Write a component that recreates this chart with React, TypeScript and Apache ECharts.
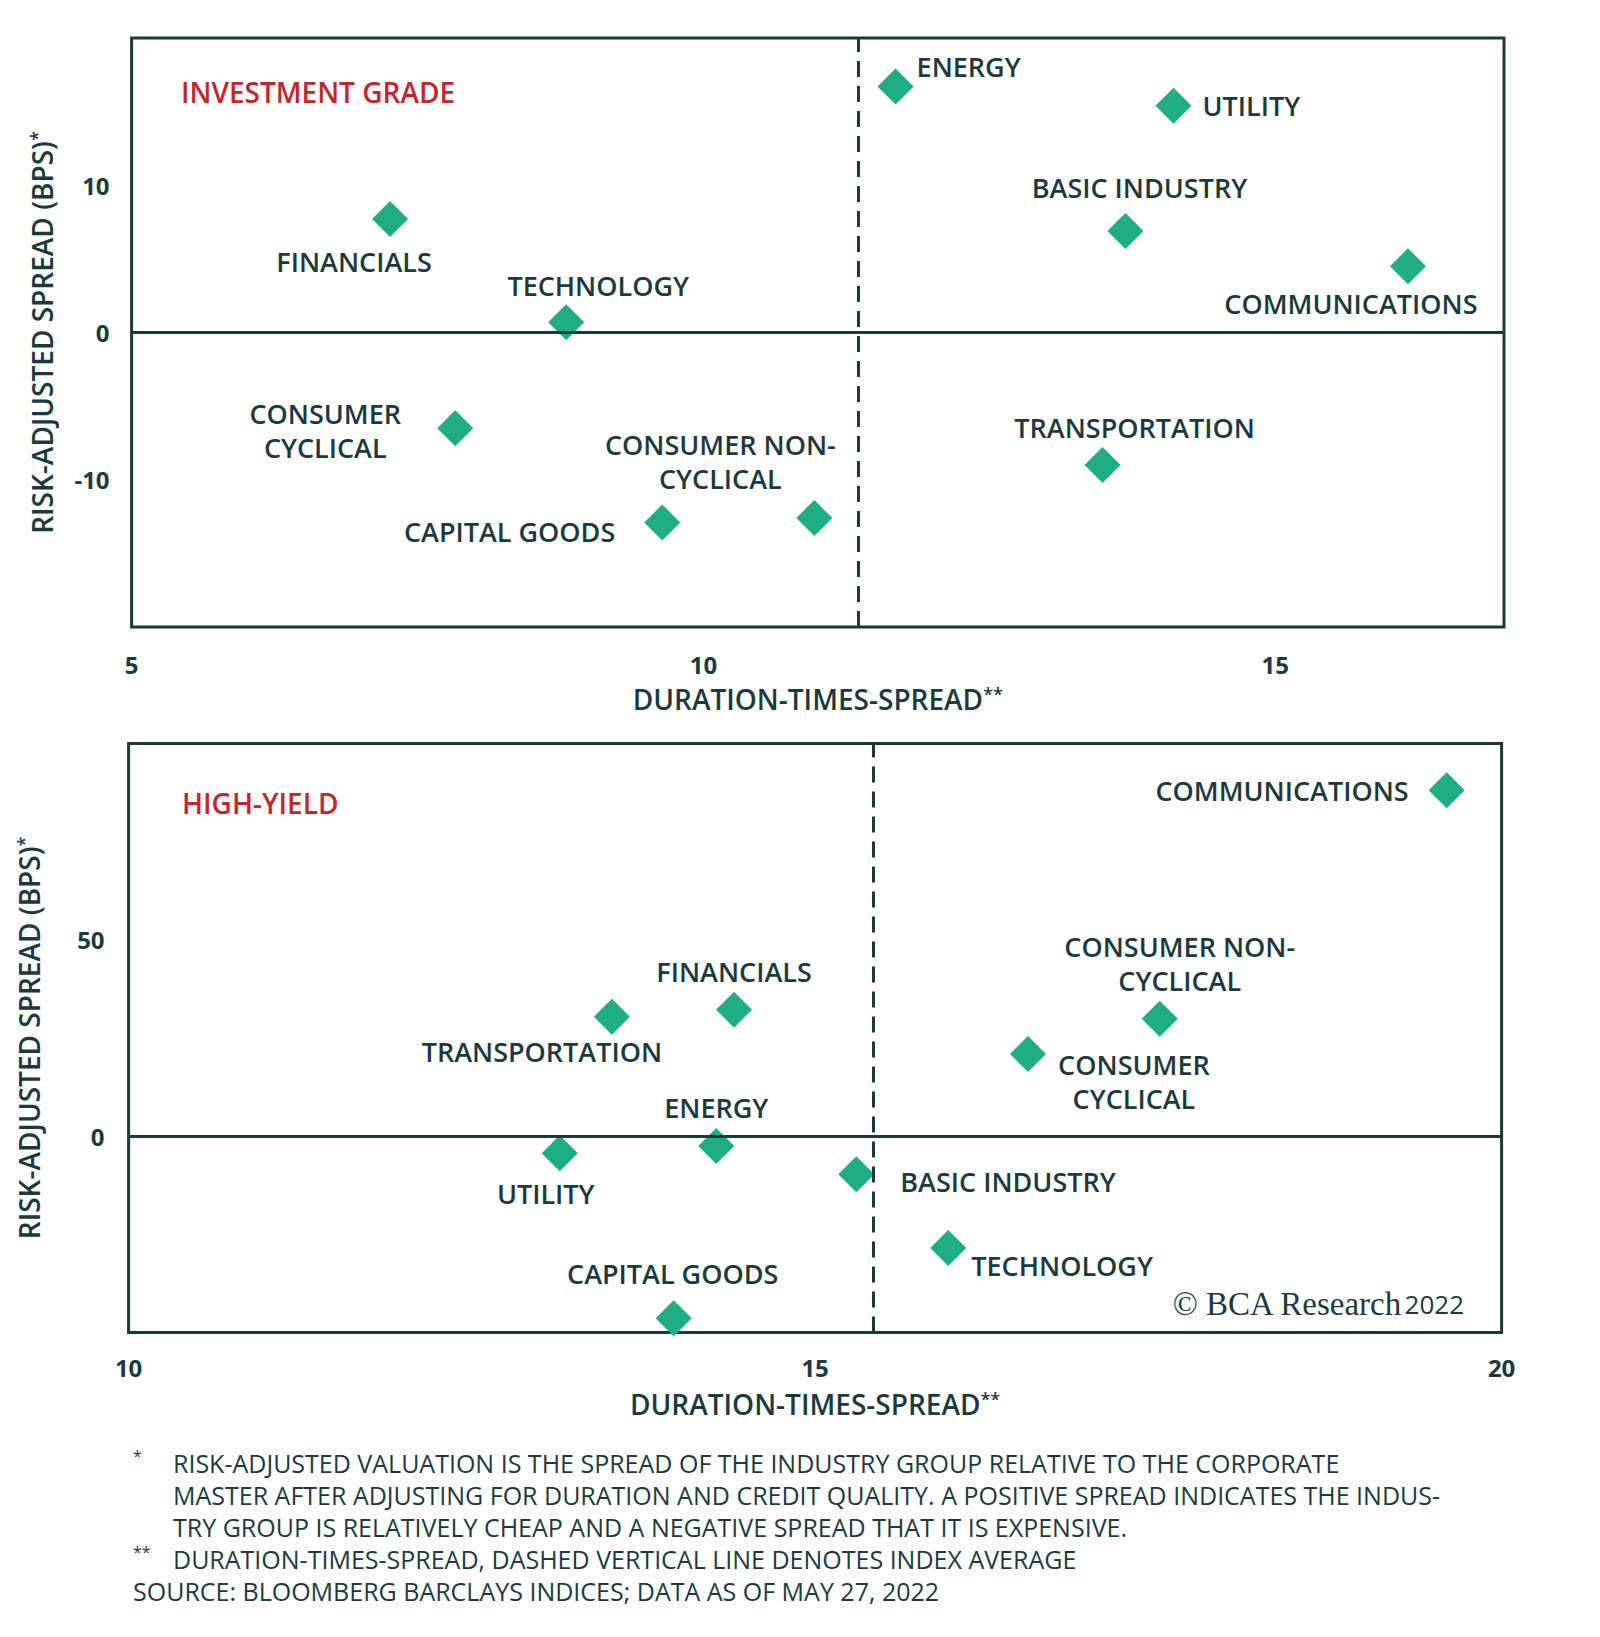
import React, { useEffect, useRef } from "react";
import * as echarts from "echarts";

// ---------- DATA ----------
const igSectors = [
  "FINANCIALS",
  "TECHNOLOGY",
  "CONSUMER\nCYCLICAL",
  "CAPITAL GOODS",
  "CONSUMER NON-\nCYCLICAL",
  "ENERGY",
  "UTILITY",
  "BASIC INDUSTRY",
  "COMMUNICATIONS",
  "TRANSPORTATION",
];
const igDTS = [7.26, 8.8, 7.83, 9.64, 10.97, 11.68, 14.11, 13.69, 16.16, 13.49];
const igSpread = [7.7, 0.7, -6.5, -12.9, -12.6, 16.7, 15.4, 6.9, 4.5, -9.0];
const igAverageDTS = 11.35;

const hySectors = [
  "TRANSPORTATION",
  "FINANCIALS",
  "UTILITY",
  "ENERGY",
  "CAPITAL GOODS",
  "COMMUNICATIONS",
  "CONSUMER NON-\nCYCLICAL",
  "CONSUMER\nCYCLICAL",
  "BASIC INDUSTRY",
  "TECHNOLOGY",
];
const hyDTS = [13.52, 14.41, 13.14, 14.28, 13.97, 19.6, 17.51, 16.55, 15.3, 15.97];
const hySpread = [30.4, 32.2, -4.4, -2.5, -46.4, 88.1, 29.9, 20.9, -9.7, -28.5];
const hyAverageDTS = 15.42;

const xAxisTitle = "DURATION-TIMES-SPREAD";
const yAxisTitle = "RISK-ADJUSTED SPREAD (BPS)";
const igTitle = "INVESTMENT GRADE";
const hyTitle = "HIGH-YIELD";
const footnotes = [
  "RISK-ADJUSTED VALUATION IS THE SPREAD OF THE INDUSTRY GROUP RELATIVE TO THE CORPORATE",
  "MASTER AFTER ADJUSTING FOR DURATION AND CREDIT QUALITY. A POSITIVE SPREAD INDICATES THE INDUS-",
  "TRY GROUP IS RELATIVELY CHEAP AND A NEGATIVE SPREAD THAT IT IS EXPENSIVE.",
];
const footnote2 = "DURATION-TIMES-SPREAD, DASHED VERTICAL LINE DENOTES INDEX AVERAGE";
const sourceNote = "SOURCE: BLOOMBERG BARCLAYS INDICES; DATA AS OF MAY 27, 2022";

// ---------- STYLE / PLACEMENT ----------
const DARK = "#1c3a3e";
const GREEN = "#1fae83";
const RED = "#c1272d";
const FONT = "Open Sans";

type Place = { align: string; dx: number; dy: number };
const igLabelPlace: Place[] = [
  { align: "center", dx: -36, dy: 42 },
  { align: "center", dx: 32, dy: -37 },
  { align: "center", dx: -130, dy: 2 },
  { align: "right", dx: -47, dy: 9 },
  { align: "center", dx: -94, dy: -57 },
  { align: "left", dx: 21, dy: -20 },
  { align: "left", dx: 29, dy: 0 },
  { align: "center", dx: 14, dy: -43 },
  { align: "center", dx: -57, dy: 37 },
  { align: "center", dx: 32, dy: -38 },
];
const hyLabelPlace: Place[] = [
  { align: "center", dx: -70, dy: 35 },
  { align: "center", dx: 0, dy: -38 },
  { align: "center", dx: -14, dy: 40 },
  { align: "center", dx: 0, dy: -38 },
  { align: "center", dx: -1, dy: -45 },
  { align: "right", dx: -38, dy: 0 },
  { align: "center", dx: 20, dy: -55 },
  { align: "center", dx: 106, dy: 28 },
  { align: "left", dx: 44, dy: 7 },
  { align: "left", dx: 23, dy: 18 },
];

function buildPoints(names: string[], xs: number[], ys: number[], places: Place[]) {
  return names.map((n, i) => ({
    name: n,
    value: [xs[i], ys[i]],
    label: { align: places[i].align, offset: [places[i].dx, places[i].dy] },
  }));
}

const axisLabelStyle = { fontSize: 24, fontWeight: "bold", color: DARK, fontFamily: FONT };
const nameStyle = {
  fontSize: 28,
  fontWeight: 600,
  color: DARK,
  fontFamily: FONT,
  rich: { s: { fontSize: 18, fontWeight: 600, color: DARK, fontFamily: FONT, verticalAlign: "top", lineHeight: 18 } },
};

function xAxisCfg(gridIndex: number, min: number, max: number, margin: number, gap: number, hideMax: boolean) {
  return {
    gridIndex,
    type: "value",
    min,
    max,
    interval: 5,
    axisLine: { show: false },
    axisTick: { show: false },
    splitLine: { show: false },
    axisLabel: { ...axisLabelStyle, margin, showMaxLabel: !hideMax },
    name: xAxisTitle + "{s|**}",
    nameLocation: "middle",
    nameGap: gap,
    nameTextStyle: nameStyle,
  };
}
function yAxisCfg(gridIndex: number, min: number, max: number, interval: number, margin: number, gap: number) {
  return {
    gridIndex,
    type: "value",
    min,
    max,
    interval,
    axisLine: { show: false },
    axisTick: { show: false },
    splitLine: { show: false },
    axisLabel: { ...axisLabelStyle, margin, showMinLabel: false, showMaxLabel: false },
    name: yAxisTitle + "{s|*}",
    nameLocation: "middle",
    nameGap: gap,
    nameTextStyle: nameStyle,
  };
}

function scatterSeries(idx: number, data: any[], avg: number) {
  return {
    type: "scatter",
    xAxisIndex: idx,
    yAxisIndex: idx,
    symbol: "diamond",
    symbolSize: 36,
    itemStyle: { color: GREEN, opacity: 1 },
    z: 3,
    label: {
      show: true,
      position: "inside",
      formatter: "{b}",
      color: DARK,
      fontSize: 27,
      fontWeight: 600,
      fontFamily: FONT,
      lineHeight: 34,
    },
    data,
    markLine: {
      silent: true,
      symbol: "none",
      label: { show: false },
      lineStyle: { color: DARK, width: 3 },
      data: [
        { yAxis: 0, lineStyle: { type: "solid", color: DARK, width: 3 } },
        { xAxis: avg, lineStyle: { type: [16, 9], color: DARK, width: 3 } },
      ],
    },
  };
}

function textG(x: number, y: number, text: string, extra: any = {}) {
  return {
    type: "text",
    x,
    y,
    style: {
      text,
      fill: DARK,
      fontFamily: FONT,
      fontSize: 25,
      verticalAlign: "middle",
      textVerticalAlign: "middle",
      ...extra,
    },
  };
}

export default function App() {
  const ref = useRef<HTMLDivElement>(null);
  useEffect(() => {
    if (!ref.current) return;
    const chart = echarts.init(ref.current, undefined, { renderer: "svg" });
    const graphics: any[] = [
      textG(181, 92, igTitle, { fill: RED, fontSize: 28, fontWeight: 600 }),
      textG(182, 803, hyTitle, { fill: RED, fontSize: 28, fontWeight: 600 }),
      {
        type: "text",
        x: 1464,
        y: 1304,
        style: {
          text: "{a|© BCA Research} {b|2022}",
          align: "right",
          verticalAlign: "middle",
          rich: {
            a: { fontFamily: "Liberation Serif", fontSize: 33, fill: DARK },
            b: { fontFamily: FONT, fontSize: 26, fill: DARK },
          },
        },
      },
      textG(133, 1456, "*", { fontSize: 16 }),
      textG(133, 1552, "**", { fontSize: 16 }),
      ...footnotes.map((t, i) => textG(173, 1463 + i * 32, t)),
      textG(173, 1559, footnote2),
      textG(133, 1591, sourceNote),
    ];
    chart.setOption({
      animation: false,
      textStyle: { fontFamily: FONT },
      grid: [
        { left: 131.6, top: 38, width: 1372.4, height: 589, show: true, borderColor: DARK, borderWidth: 3, backgroundColor: "transparent" },
        { left: 128.6, top: 743.4, width: 1373, height: 589, show: true, borderColor: DARK, borderWidth: 3, backgroundColor: "transparent" },
      ],
      xAxis: [xAxisCfg(0, 5, 17, 25, 58, true), xAxisCfg(1, 10, 20, 23, 58, false)],
      yAxis: [yAxisCfg(0, -20, 20, 10, 22, 76), yAxisCfg(1, -50, 100, 50, 24, 86)],
      series: [
        scatterSeries(0, buildPoints(igSectors, igDTS, igSpread, igLabelPlace), igAverageDTS),
        scatterSeries(1, buildPoints(hySectors, hyDTS, hySpread, hyLabelPlace), hyAverageDTS),
      ],
      graphic: graphics,
    });
    return () => chart.dispose();
  }, []);
  return (
    <div
      ref={ref}
      style={{ position: "absolute", left: 0, top: 0, width: 1600, height: 1637, background: "#fff" }}
    />
  );
}
